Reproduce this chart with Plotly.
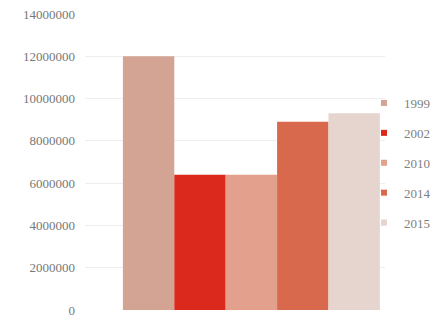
import plotly.graph_objects as go

years = ["1999", "2002", "2010", "2014", "2015"]
values = [12000000, 6400000, 6400000, 8900000, 9300000]
colors = ["#d3a394", "#db2a1d", "#e3a08c", "#d8694c", "#e6d4cf"]
tick_vals = [0, 2000000, 4000000, 6000000, 8000000, 10000000, 12000000, 14000000]

fig = go.Figure()
for yr, v, c in zip(years, values, colors):
    fig.add_trace(go.Bar(x=[0], y=[v], name=yr, marker=dict(color=c, line=dict(width=0)),
                         showlegend=False, legendgroup=yr))
for yr, c in zip(years, colors):
    fig.add_trace(go.Scatter(x=[None], y=[None], mode="markers", name=yr, legendgroup=yr,
                             marker=dict(symbol="square", size=6, color=c)))

fig.update_layout(
    width=440, height=321,
    margin=dict(l=85, r=55, t=14, b=11, autoexpand=False),
    paper_bgcolor="white", plot_bgcolor="white",
    barmode="group", bargap=0.2, bargroupgap=0,
    font=dict(family="Liberation Serif, Times New Roman, serif", size=13, color="#777777"),
    showlegend=True,
    legend=dict(x=0.93, y=0.75, xanchor="left", yanchor="top", bgcolor="rgba(0,0,0,0)",
                tracegroupgap=10, font=dict(size=13, color="#808080"), itemwidth=30),
    xaxis=dict(range=[-0.518, 0.416], showticklabels=False, showgrid=False, zeroline=False,
               showline=False, ticks=""),
    yaxis=dict(range=[0, 14000000], tickvals=tick_vals, tickformat="d", showgrid=True,
               gridcolor="#eeeeee", zeroline=False, showline=False, ticks="",
               ticklabelstandoff=9, tickfont=dict(size=13, color="#777777")),
)
fig.write_html("out.html")
